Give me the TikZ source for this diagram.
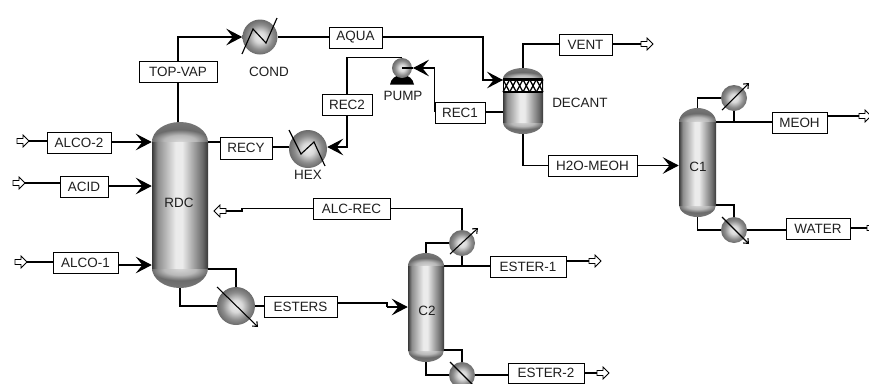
\documentclass[tikz,border=0pt]{standalone}
\usepackage{fontspec}
\setmainfont{Liberation Sans}
\usetikzlibrary{arrows.meta,calc}
\definecolor{gA}{gray}{0.22}
\definecolor{gB}{gray}{0.55}
\definecolor{gC}{gray}{0.92}
\definecolor{gD}{gray}{0.85}
\definecolor{gE}{gray}{0.42}
\definecolor{gF}{gray}{0.50}
\definecolor{txt}{gray}{0.12}
\pgfdeclarehorizontalshading{colbody}{100bp}{color(0bp)=(gA); color(25bp)=(gA); color(30bp)=(gB); color(46bp)=(gC); color(52bp)=(gC); color(70bp)=(gE); color(75bp)=(gA); color(100bp)=(gA)}
\pgfdeclareradialshading{captop}{\pgfpoint{0bp}{-25bp}}{color(0bp)=(gD); color(14bp)=(gD!85!black); color(25bp)=(gE); color(50bp)=(gF); color(100bp)=(gF)}
\pgfdeclareradialshading{capbot}{\pgfpoint{0bp}{25bp}}{color(0bp)=(gD); color(14bp)=(gD!85!black); color(25bp)=(gE); color(50bp)=(gF); color(100bp)=(gF)}
\pgfdeclareradialshading{sphere}{\pgfpoint{0bp}{0bp}}{color(0bp)=(gC); color(8bp)=(gD); color(18bp)=(gB); color(25bp)=(gE); color(50bp)=(gE)}
\tikzset{
  x=0.75pt,y=-0.75pt,
  conn/.style={line width=0.85pt,black,line join=miter},
  feed/.style={conn,-{Stealth[length=12pt,width=12.5pt,inset=5pt]}},
  util/.style={line width=0.8pt,black,-{Straight Barb[length=3pt,width=5pt]}},
  zig/.style={line width=0.85pt,black},
  strm/.style={draw=black,line width=0.6pt,fill=white,inner sep=0pt,font=\fontsize{10.1pt}{11pt}\selectfont,text=txt},
  lbl/.style={inner sep=0pt,font=\fontsize{10.1pt}{11pt}\selectfont,text=txt},
  portline/.style={draw=black,fill=white,line width=0.6pt},
}
% name, x1, y1, x2, y2, text
\newcommand\strmbox[6]{\node[strm,minimum width={(#4-#2)*0.75pt},minimum height={(#5-#3)*0.75pt}] (#1) at ({(#2+#4)/2},{(#3+#5)/2}) {#6};}
% name, x, y, r
\newcommand\sphnode[4]{\node[circle,inner sep=0pt,shade,shading=sphere,minimum size={2*#4*0.75pt}] (#1) at (#2,#3) {};}
% name, left x, y, direction (1 right, -1 left)
\newcommand\portarrow[4]{%
  \begin{scope}[shift={(#2+6,#3)},xscale=#4]
    \path[portline] (-6,-2.5) -- (0,-2.5) -- (0,-6) -- (6,0) -- (0,6) -- (0,2.5) -- (-6,2.5) -- cycle;
  \end{scope}
  \coordinate (#1w) at (#2,#3);
  \coordinate (#1e) at (#2+12,#3);
}
% name, x1, x2, top, shoulder1, shoulder2, bottom
\newcommand\colmn[7]{%
  \pgfmathsetmacro\xm{(#2+#3)/2}%
  \pgfmathsetmacro\xa{\xm-0.55*(\xm-#2)}%
  \pgfmathsetmacro\xb{\xm+0.55*(\xm-#2)}%
  \pgfmathsetmacro\ya{#5-0.55*(#5-#4)}%
  \pgfmathsetmacro\yb{#6+0.55*(#7-#6)}%
  \shade[shading=captop] (#2,#5) .. controls (#2,\ya) and (\xa,#4) .. (\xm,#4) .. controls (\xb,#4) and (#3,\ya) .. (#3,#5) -- cycle;
  \shade[shading=capbot] (#2,#6) .. controls (#2,\yb) and (\xa,#7) .. (\xm,#7) .. controls (\xb,#7) and (#3,\yb) .. (#3,#6) -- cycle;
  \shade[shading=colbody] (#2,#5) rectangle (#3,#6);
  \node[inner sep=0pt,minimum width={(#3-#2)*0.75pt},minimum height={(#7-#4)*0.75pt}] (#1) at (\xm,{(#4+#7)/2}) {};
}
\begin{document}
\begin{tikzpicture}
\useasboundingbox (0,0) rectangle (869,383);
\clip (0,0) rectangle (869,383);

% columns
\colmn{RDC}{152}{208}{122}{142}{268}{288}
\colmn{CA}{679}{716}{108}{122}{205}{217}
\colmn{CB}{408}{444}{253}{266}{350}{362}
\colmn{DEC}{503}{543}{68}{79}{122}{134}

% decanter packing
\fill[white] (503,79) rectangle (543,92);
\foreach \i in {0,...,5}{
  \draw[line width=0.95pt] (503+6.667*\i,79.5) -- (509.667+6.667*\i,92) (509.667+6.667*\i,79.5) -- (503+6.667*\i,92);
}
\draw[line width=1.6pt] (503,79.5) -- (543,79.5) (503,92) -- (543,92);
\draw[line width=1pt] (503.4,79) -- (503.4,92.5) (542.6,79) -- (542.6,92.5);

% equipment
\sphnode{COND}{260}{37}{17.5}
\sphnode{HEXR}{308}{149}{19}
\sphnode{RDCR}{236}{306}{19}
\sphnode{CBC}{462}{243}{13}
\sphnode{CBR}{462}{375}{13}
\sphnode{CAC}{734}{98}{13}
\sphnode{CAR}{734}{230}{13}
\fill[black] (390,84.5) .. controls (391,79) and (395,75) .. (402,75) .. controls (409,75) and (413,79) .. (414,84.5) -- cycle;
\sphnode{PUMP}{402}{68}{10}

% stream boxes
\strmbox{TOPVAP}{139}{61}{217}{82}{TOP-VAP}
\strmbox{ALCOB}{47}{132}{111}{153}{ALCO-2}
\strmbox{ACID}{60}{176}{108}{197}{ACID}
\strmbox{ALCOA}{53}{252}{118}{273}{ALCO-1}
\strmbox{RECY}{220}{137}{272}{159}{RECY}
\strmbox{AQUA}{329}{27}{382}{48}{AQUA}
\strmbox{RECB}{322}{94}{372}{115}{REC2}
\strmbox{RECA}{435}{102}{485}{123}{REC1}
\strmbox{VENT}{559}{34}{612}{55}{VENT}
\strmbox{HTWO}{548}{155}{637}{176}{H2O-MEOH}
\strmbox{MEOH}{772}{112}{827}{133}{MEOH}
\strmbox{WATER}{786}{218}{850}{239}{WATER}
\strmbox{ALCREC}{313}{198}{390}{219}{ALC-REC}
\strmbox{ESTERS}{264}{296}{337}{317}{ESTERS}
\strmbox{ESTA}{490}{256}{566}{277}{ESTER-1}
\strmbox{ESTB}{508}{363}{584}{383}{ESTER-2}

% labels
\node[lbl] (RDClbl) at (179,203) {RDC};
\node[lbl] (CAlbl) at (698,167) {C1};
\node[lbl] (CBlbl) at (427,311) {C2};
\node[lbl] (CONDlbl) at (269,72) {COND};
\node[lbl] (PUMPlbl) at (403,96) {PUMP};
\node[lbl] (HEXlbl) at (308,175) {HEX};
\node[lbl,anchor=west] (DEClbl) at (552,103) {DECANT};

% ports
\portarrow{pAlcoB}{17}{141}{1}
\portarrow{pAcid}{13}{183}{1}
\portarrow{pAlcoA}{15}{262}{1}
\portarrow{pAlcRec}{214}{211}{-1}
\portarrow{pEstA}{589}{261}{1}
\portarrow{pEstB}{597}{373}{1}
\portarrow{pVent}{641}{44}{1}
\portarrow{pMeoh}{859}{116}{1}
\portarrow{pWater}{867}{228}{1}

% helper coordinates on the vessels
\coordinate (dkIn) at (503,80);
\coordinate (dkTop) at (523,68);
\coordinate (dkBot) at (523,134);
\coordinate (dkSide) at (503,112);

% feeds into RDC
\draw[conn] (pAlcoBe) -- (ALCOB.west |- pAlcoBe);
\draw[feed] (ALCOB.east |- 0,142) -- (RDC.west |- 0,142);
\draw[conn] (pAcide) -- (ACID.west |- pAcide);
\draw[feed] (ACID.east |- 0,186) -- (RDC.west |- 0,186);
\draw[conn] (pAlcoAe) -- (ALCOA.west |- pAlcoAe);
\draw[feed] (ALCOA.east |- 0,265) -- (RDC.west |- 0,265);

% overhead
\draw[conn] (RDC.north -| TOPVAP.south) -- (TOPVAP.south);
\draw[feed] (TOPVAP.north) |- (COND.west);
\draw[conn] (COND.east) -- (AQUA.west |- COND.east);
\draw[feed] (AQUA.east |- COND.east) -| (483,80) -- (dkIn);
\draw[zig] (242,54) -- (253,29) -- (266,43) -- (277,18);

% decanter
\draw[conn] (dkTop) |- (VENT.west |- pVentw);
\draw[conn] (VENT.east |- pVentw) -- (pVentw);
\draw[conn] (dkBot) |- (HTWO.west);
\draw[feed] (HTWO.east) -- (CA.west |- HTWO.east);
\draw[conn] (dkSide) -- (RECA.east |- dkSide);
\draw[feed] (RECA.west |- dkSide) |- (413,68);
\draw[conn] (413,68) -- (PUMP.center);

% recycle
\draw[conn] (PUMP.north) -| (RECB.north);
\draw[feed] (RECB.south) |- (HEXR.east |- 0,147);
\draw[conn] (RDC.east |- 0,142) -- (RECY.west |- 0,142);
\draw[conn] (RECY.east |- 0,147) -- (HEXR.west |- 0,147);
\draw[zig] (289,130) -- (301,154) -- (314,142) -- (325,166);

% RDC bottoms
\draw[conn] (RDC.east |- 0,269) -| (RDCR.north);
\draw[conn] (RDC.south) |- (RDCR.west);
\draw[conn] (RDCR.east) -- (ESTERS.west |- RDCR.east);
\draw[util] (217,287) -- (258,327);
\draw[conn] (ESTERS.east |- 0,303) -- (387,303) -- (387,307);
\draw[feed] (387,307) -- (CB.west |- 0,307);

% alcohol recycle and C2
\draw[conn] (pAlcRece) -- (242,211) -- (242,208.5) -- (ALCREC.west);
\draw[conn] (ALCREC.east) -| (CBC.north);
\draw[conn] (CB.north) |- (CBC.west);
\draw[conn] (CBC.south) -- (CBC.south |- 0,266);
\draw[conn] (CB.east |- 0,266) -- (ESTA.west |- 0,266);
\draw[conn] (ESTA.east |- pEstAw) -- (pEstAw);
\draw[util] (450,254) -- (478,228);
\draw[conn] (CB.east |- 0,350) -| (CBR.north);
\draw[conn] (CB.south) |- (CBR.west);
\draw[conn] (CBR.east) -- (ESTB.west |- CBR.east);
\draw[conn] (ESTB.east |- pEstBw) -- (pEstBw);
\draw[util] (450,362) -- (478,390);

% C1
\draw[conn] (CA.north) |- (CAC.west);
\draw[conn] (CAC.south) -- (CAC.south |- 0,122);
\draw[conn] (CA.east |- 0,122) -- (MEOH.west |- 0,122);
\draw[conn] (MEOH.east |- pMeohw) -- (pMeohw);
\draw[util] (722,110) -- (749,83);
\draw[conn] (CA.east |- 0,205) -| (CAR.north);
\draw[conn] (CA.south) |- (CAR.west);
\draw[conn] (CAR.east) -- (WATER.west |- CAR.east);
\draw[conn] (WATER.east |- pWaterw) -- (pWaterw);
\draw[util] (722,217) -- (749,244);
\end{tikzpicture}
\end{document}
